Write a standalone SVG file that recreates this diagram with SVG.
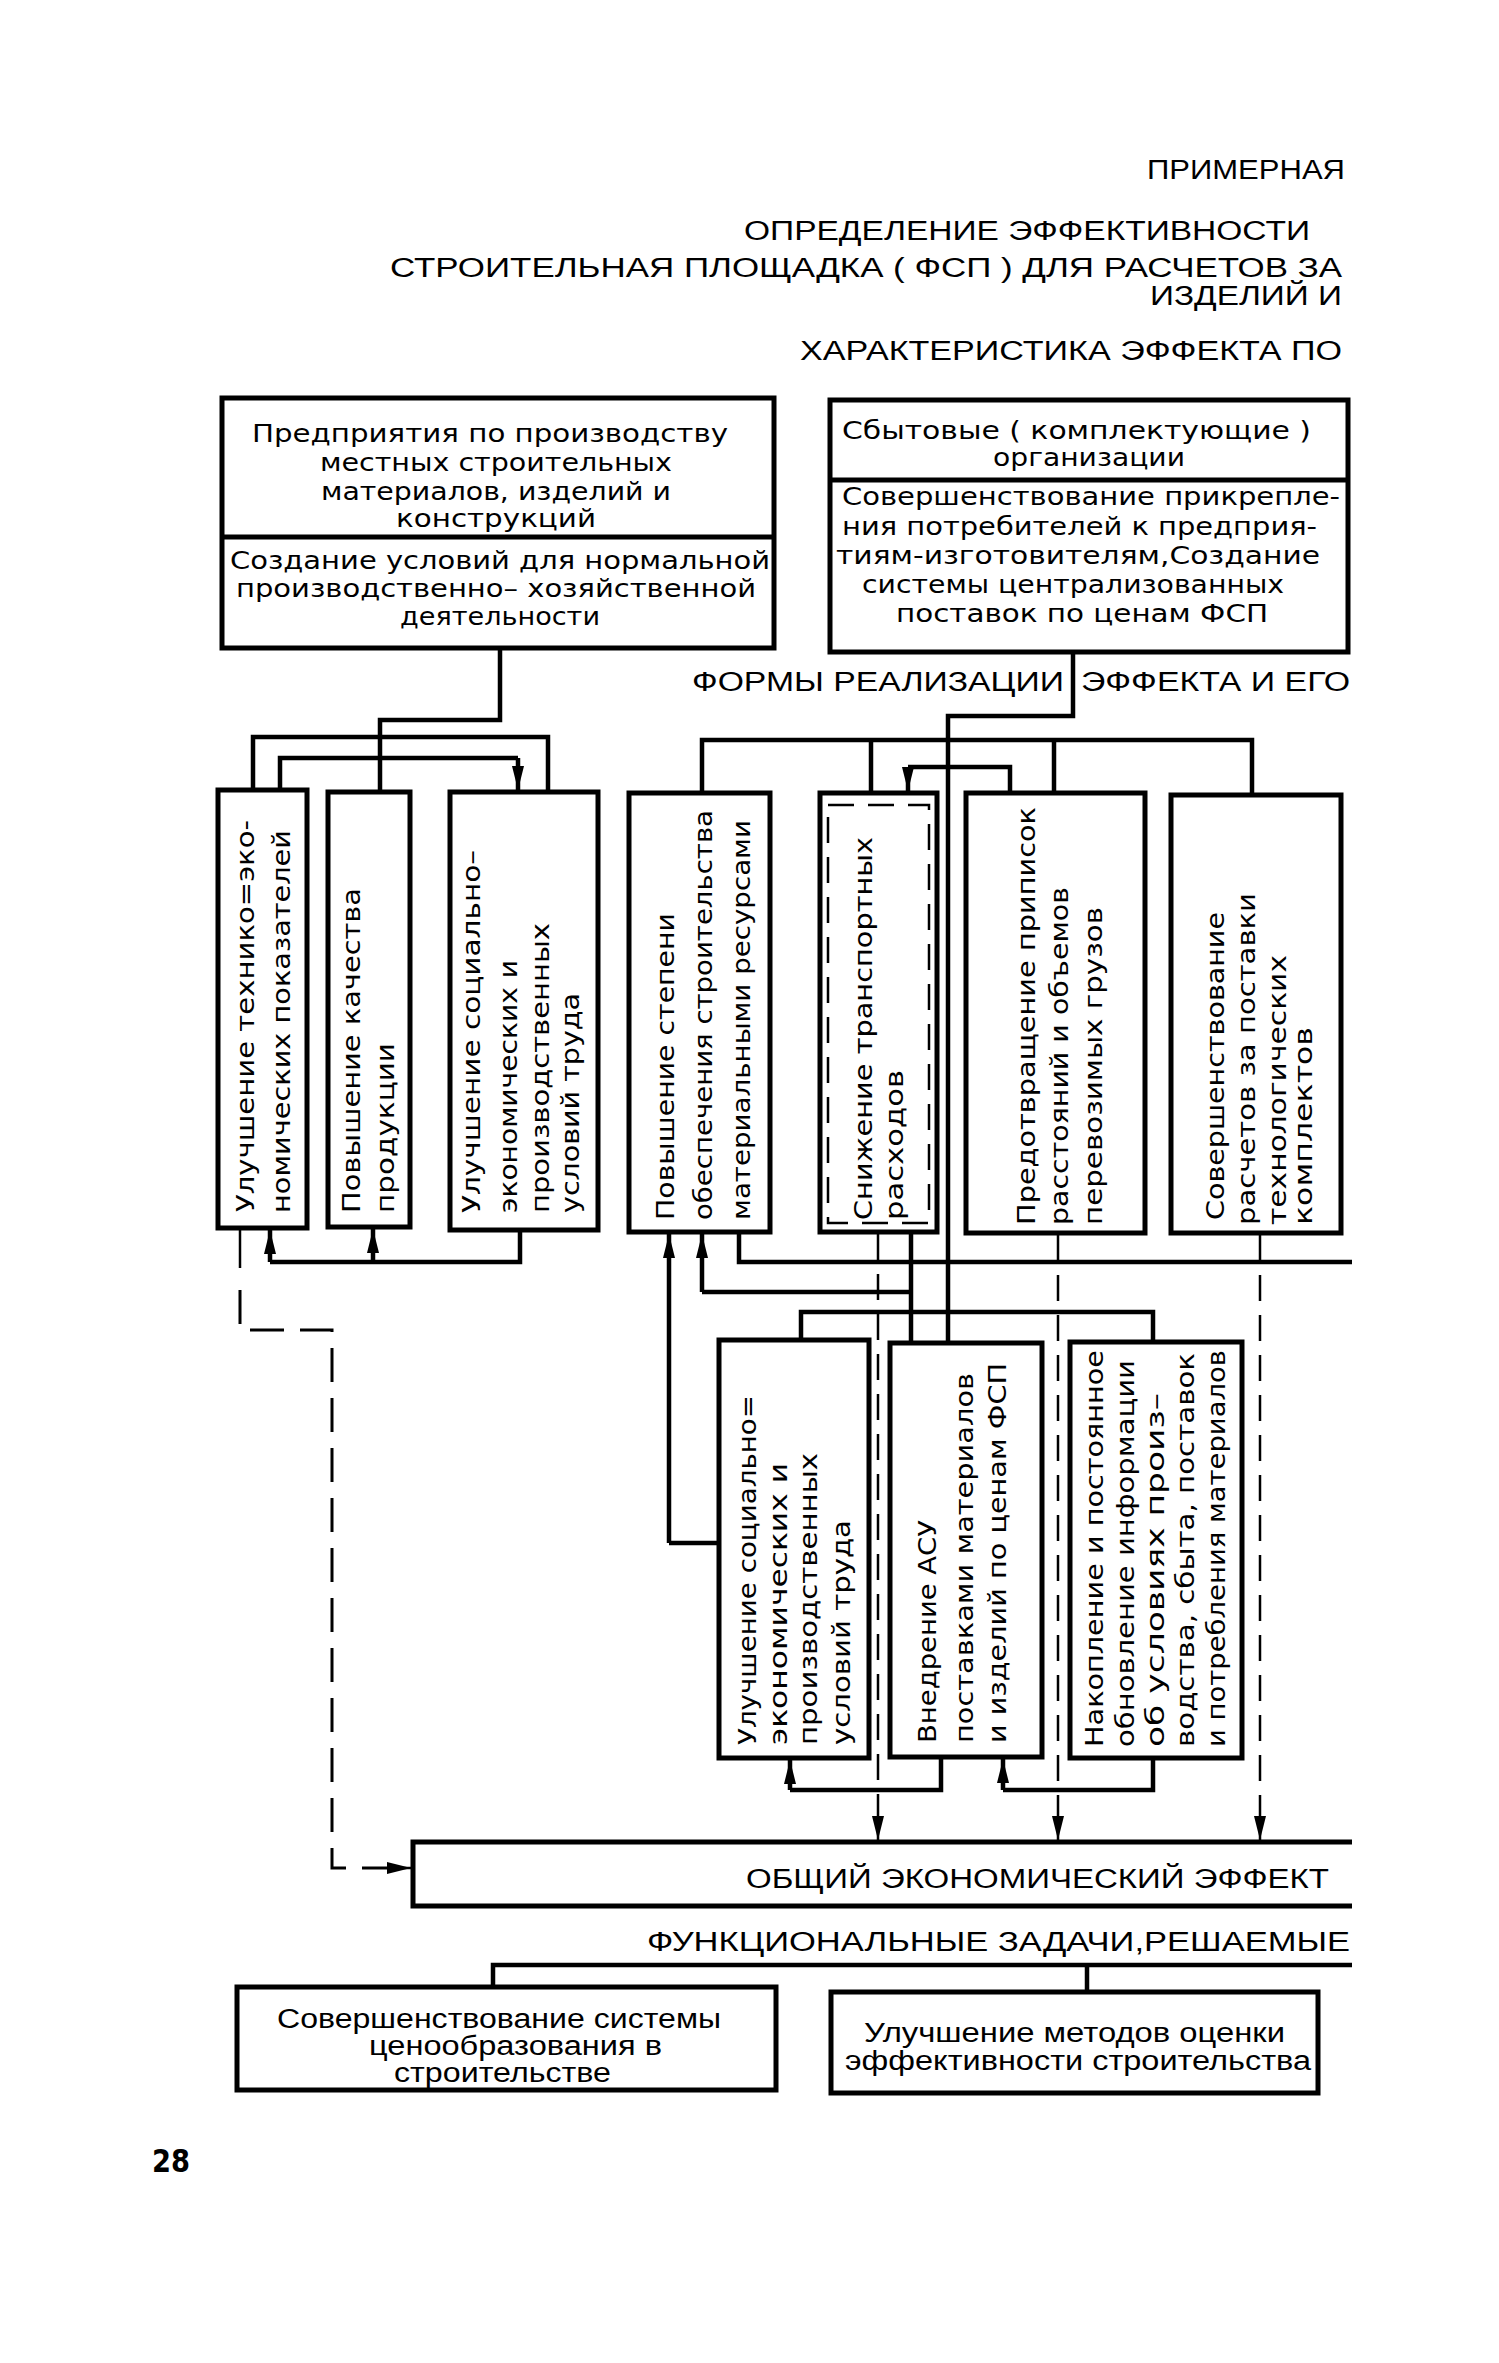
<svg xmlns="http://www.w3.org/2000/svg" width="1499" height="2363" viewBox="0 0 1499 2363">
<style>
.box{fill:none;stroke:#000;stroke-width:5}
.ln{fill:none;stroke:#000;stroke-width:4.5}
.th{fill:none;stroke:#000;stroke-width:2.5}
.ds{fill:none;stroke:#000;stroke-width:2.5;stroke-dasharray:26 14}
.dsb{fill:none;stroke:#000;stroke-width:3;stroke-dasharray:34 16}
.hd{font-family:"Liberation Sans",Arial,sans-serif;font-size:27px;fill:#000}
.bt{font-family:"DejaVu Sans","Liberation Sans",sans-serif;font-size:24px;fill:#000}
.bc{font-family:"Liberation Sans",Arial,sans-serif;font-size:27px;fill:#000}
.pg{font-family:"DejaVu Sans","Liberation Sans",sans-serif;font-size:32px;font-weight:bold;fill:#000}
</style>
<defs>
<marker id="ah" markerUnits="userSpaceOnUse" markerWidth="24" markerHeight="14" refX="24" refY="7" orient="auto" viewBox="0 0 24 14">
<path d="M0,1 L24,7 L0,13 Z" fill="#000"/>
</marker>
</defs>
<rect x="0" y="0" width="1499" height="2363" fill="#fff"/>

<g id="title">
<text class="hd" x="1147" y="179" textLength="198" lengthAdjust="spacingAndGlyphs">ПРИМЕРНАЯ</text>
<text class="hd" x="744" y="240" textLength="566" lengthAdjust="spacingAndGlyphs">ОПРЕДЕЛЕНИЕ ЭФФЕКТИВНОСТИ</text>
<text class="hd" x="390" y="277" textLength="952" lengthAdjust="spacingAndGlyphs">СТРОИТЕЛЬНАЯ ПЛОЩАДКА ( ФСП ) ДЛЯ РАСЧЕТОВ ЗА</text>
<text class="hd" x="1150" y="305" textLength="192" lengthAdjust="spacingAndGlyphs">ИЗДЕЛИЙ И</text>
<text class="hd" x="800" y="360" textLength="542" lengthAdjust="spacingAndGlyphs">ХАРАКТЕРИСТИКА ЭФФЕКТА ПО</text>
<text class="hd" x="692" y="691" textLength="372" lengthAdjust="spacingAndGlyphs">ФОРМЫ РЕАЛИЗАЦИИ</text>
<text class="hd" x="1081" y="691" textLength="269" lengthAdjust="spacingAndGlyphs">ЭФФЕКТА И ЕГО</text>
<text class="hd" x="647" y="1951" textLength="703" lengthAdjust="spacingAndGlyphs">ФУНКЦИОНАЛЬНЫЕ  ЗАДАЧИ,РЕШАЕМЫЕ</text>
<text class="pg" x="152" y="2172" textLength="38" lengthAdjust="spacingAndGlyphs">28</text>
</g>

<g id="connectors">
<!-- left group -->
<path class="ln" d="M500,648 V720 H380 V792"/>
<path class="ln" d="M253,792 V737 H548 V792"/>
<path class="ln" d="M280,792 V758 H518"/>
<path class="ln" d="M518,758 V790" marker-end="url(#ah)"/>
<path class="ln" d="M520,1230 V1262 H270"/>
<path class="ln" d="M270,1262 V1230" marker-end="url(#ah)"/>
<path class="ln" d="M373,1262 V1229" marker-end="url(#ah)"/>
<path class="th" d="M240,1228 V1268"/>
<path class="dsb" d="M240,1290 V1330 H332 V1868 H395"/>
<path class="th" d="M395,1868 H411" marker-end="url(#ah)"/>
<!-- right group -->
<path class="ln" d="M1073,652 V716 H948 V1343"/>
<path class="ln" d="M702,793 V740 H1252 V795"/>
<path class="ln" d="M871,740 V793"/>
<path class="ln" d="M1054,740 V793"/>
<path class="ln" d="M1010,793 V767 H908"/>
<path class="ln" d="M908,767 V791" marker-end="url(#ah)"/>
<path class="ln" d="M739,1232 V1262 H1352"/>
<path class="ln" d="M911,1232 V1343"/>
<path class="ln" d="M911,1292 H702"/>
<path class="ln" d="M702,1292 V1234" marker-end="url(#ah)"/>
<path class="ln" d="M719,1543 H669"/>
<path class="ln" d="M669,1543 V1234" marker-end="url(#ah)"/>
<path class="ln" d="M801,1340 V1312 H1153 V1342"/>
<path class="ds" d="M878,1234 V1822"/>
<path class="th" d="M878,1818 V1840" marker-end="url(#ah)"/>
<path class="ds" d="M1058,1235 V1822"/>
<path class="th" d="M1058,1818 V1840" marker-end="url(#ah)"/>
<path class="ds" d="M1260,1235 V1822"/>
<path class="th" d="M1260,1818 V1840" marker-end="url(#ah)"/>
<path class="ln" d="M941,1757 V1790 H790"/>
<path class="ln" d="M790,1790 V1760" marker-end="url(#ah)"/>
<path class="ln" d="M1153,1758 V1790 H1003"/>
<path class="ln" d="M1003,1790 V1759" marker-end="url(#ah)"/>
<!-- bottom -->
<path class="ln" d="M1352,1965 H493 V1987"/>
<path class="ln" d="M1087,1965 V1992"/>
</g>

<g id="node-enterprises">
<rect class="box" x="222" y="398" width="552" height="250"/>
<line class="box" x1="222" y1="537" x2="774" y2="537"/>
<text class="bt" x="490" y="442" text-anchor="middle" textLength="476" lengthAdjust="spacingAndGlyphs">Предприятия по производству</text>
<text class="bt" x="496" y="471" text-anchor="middle" textLength="352" lengthAdjust="spacingAndGlyphs">местных строительных</text>
<text class="bt" x="496" y="500" text-anchor="middle" textLength="350" lengthAdjust="spacingAndGlyphs">материалов, изделий и</text>
<text class="bt" x="496" y="527" text-anchor="middle" textLength="200" lengthAdjust="spacingAndGlyphs">конструкций</text>
<text class="bt" x="230" y="569" textLength="540" lengthAdjust="spacingAndGlyphs">Создание условий для нормальной</text>
<text class="bt" x="236" y="597" textLength="520" lengthAdjust="spacingAndGlyphs">производственно– хозяйственной</text>
<text class="bt" x="400" y="625" textLength="200" lengthAdjust="spacingAndGlyphs">деятельности</text>
</g>

<g id="node-sales">
<rect class="box" x="830" y="400" width="518" height="252"/>
<line class="box" x1="830" y1="480" x2="1348" y2="480"/>
<text class="bt" x="842" y="439" textLength="469" lengthAdjust="spacingAndGlyphs">Сбытовые ( комплектующие )</text>
<text class="bt" x="993" y="466" textLength="192" lengthAdjust="spacingAndGlyphs">организации</text>
<text class="bt" x="842" y="505" textLength="498" lengthAdjust="spacingAndGlyphs">Совершенствование прикрепле-</text>
<text class="bt" x="842" y="535" textLength="475" lengthAdjust="spacingAndGlyphs">ния потребителей к предприя-</text>
<text class="bt" x="836" y="564" textLength="484" lengthAdjust="spacingAndGlyphs">тиям-изготовителям,Создание</text>
<text class="bt" x="862" y="593" textLength="422" lengthAdjust="spacingAndGlyphs">системы централизованных</text>
<text class="bt" x="896" y="622" textLength="372" lengthAdjust="spacingAndGlyphs">поставок по ценам ФСП</text>
</g>

<g id="node-a">
<rect class="box" x="218" y="790" width="89" height="438"/>
<text class="bt" transform="translate(254,1212) rotate(-90)" textLength="392" lengthAdjust="spacingAndGlyphs">Улучшение технико=эко-</text>
<text class="bt" transform="translate(290,1213) rotate(-90)" textLength="383" lengthAdjust="spacingAndGlyphs">номических показателей</text>
</g>
<g id="node-b">
<rect class="box" x="328" y="792" width="82" height="435"/>
<text class="bt" transform="translate(360,1213) rotate(-90)" textLength="325" lengthAdjust="spacingAndGlyphs">Повышение качества</text>
<text class="bt" transform="translate(394,1213) rotate(-90)" textLength="170" lengthAdjust="spacingAndGlyphs">продукции</text>
</g>
<g id="node-c">
<rect class="box" x="450" y="792" width="148" height="438"/>
<text class="bt" transform="translate(480,1213) rotate(-90)" textLength="363" lengthAdjust="spacingAndGlyphs">Улучшение социально–</text>
<text class="bt" transform="translate(517,1213) rotate(-90)" textLength="253" lengthAdjust="spacingAndGlyphs">экономических и</text>
<text class="bt" transform="translate(549,1213) rotate(-90)" textLength="290" lengthAdjust="spacingAndGlyphs">производственных</text>
<text class="bt" transform="translate(579,1213) rotate(-90)" textLength="220" lengthAdjust="spacingAndGlyphs">условий труда</text>
</g>

<g id="node-d">
<rect class="box" x="629" y="793" width="141" height="439"/>
<text class="bt" transform="translate(674,1220) rotate(-90)" textLength="307" lengthAdjust="spacingAndGlyphs">Повышение степени</text>
<text class="bt" transform="translate(712,1220) rotate(-90)" textLength="410" lengthAdjust="spacingAndGlyphs">обеспечения строительства</text>
<text class="bt" transform="translate(750,1220) rotate(-90)" textLength="400" lengthAdjust="spacingAndGlyphs">материальными ресурсами</text>
</g>
<g id="node-e">
<rect class="box" x="820" y="793" width="117" height="439"/>
<rect class="ds" x="828" y="805" width="101" height="418"/>
<text class="bt" transform="translate(872,1220) rotate(-90)" textLength="383" lengthAdjust="spacingAndGlyphs">Снижение транспортных</text>
<text class="bt" transform="translate(903,1220) rotate(-90)" textLength="150" lengthAdjust="spacingAndGlyphs">расходов</text>
</g>
<g id="node-f">
<rect class="box" x="966" y="793" width="179" height="440"/>
<text class="bt" transform="translate(1035,1225) rotate(-90)" textLength="418" lengthAdjust="spacingAndGlyphs">Предотвращение приписок</text>
<text class="bt" transform="translate(1068,1225) rotate(-90)" textLength="338" lengthAdjust="spacingAndGlyphs">расстояний и объемов</text>
<text class="bt" transform="translate(1102,1225) rotate(-90)" textLength="318" lengthAdjust="spacingAndGlyphs">перевозимых грузов</text>
</g>
<g id="node-g">
<rect class="box" x="1171" y="795" width="170" height="438"/>
<text class="bt" transform="translate(1224,1220) rotate(-90)" textLength="308" lengthAdjust="spacingAndGlyphs">Совершенствование</text>
<text class="bt" transform="translate(1255,1225) rotate(-90)" textLength="332" lengthAdjust="spacingAndGlyphs">расчетов за поставки</text>
<text class="bt" transform="translate(1286,1225) rotate(-90)" textLength="270" lengthAdjust="spacingAndGlyphs">технологических</text>
<text class="bt" transform="translate(1312,1225) rotate(-90)" textLength="198" lengthAdjust="spacingAndGlyphs">комплектов</text>
</g>

<g id="node-h">
<rect class="box" x="719" y="1340" width="150" height="418"/>
<text class="bt" transform="translate(756,1745) rotate(-90)" textLength="350" lengthAdjust="spacingAndGlyphs">Улучшение социально=</text>
<text class="bt" transform="translate(787,1745) rotate(-90)" textLength="282" lengthAdjust="spacingAndGlyphs">экономических  и</text>
<text class="bt" transform="translate(817,1745) rotate(-90)" textLength="292" lengthAdjust="spacingAndGlyphs">производственных</text>
<text class="bt" transform="translate(850,1745) rotate(-90)" textLength="225" lengthAdjust="spacingAndGlyphs">условий труда</text>
</g>
<g id="node-i">
<rect class="box" x="890" y="1343" width="152" height="414"/>
<text class="bt" transform="translate(936,1743) rotate(-90)" textLength="223" lengthAdjust="spacingAndGlyphs">Внедрение АСУ</text>
<text class="bt" transform="translate(973,1743) rotate(-90)" textLength="370" lengthAdjust="spacingAndGlyphs">поставками материалов</text>
<text class="bt" transform="translate(1006,1743) rotate(-90)" textLength="380" lengthAdjust="spacingAndGlyphs">и изделий по ценам ФСП</text>
</g>
<g id="node-j">
<rect class="box" x="1070" y="1342" width="172" height="416"/>
<text class="bt" transform="translate(1103,1747) rotate(-90)" textLength="397" lengthAdjust="spacingAndGlyphs">Накопление и постоянное</text>
<text class="bt" transform="translate(1134,1747) rotate(-90)" textLength="387" lengthAdjust="spacingAndGlyphs">обновление информации</text>
<text class="bt" transform="translate(1164,1747) rotate(-90)" textLength="354" lengthAdjust="spacingAndGlyphs">об условиях  произ–</text>
<text class="bt" transform="translate(1194,1747) rotate(-90)" textLength="394" lengthAdjust="spacingAndGlyphs">водства, сбыта, поставок</text>
<text class="bt" transform="translate(1225,1747) rotate(-90)" textLength="397" lengthAdjust="spacingAndGlyphs">и потребления материалов</text>
</g>

<g id="node-total">
<path class="box" d="M1352,1842 H413 V1906 H1352"/>
<text class="hd" x="746" y="1888" textLength="583" lengthAdjust="spacingAndGlyphs">ОБЩИЙ ЭКОНОМИЧЕСКИЙ ЭФФЕКТ</text>
</g>

<g id="node-k">
<rect class="box" x="237" y="1987" width="539" height="103"/>
<text class="bc" x="277" y="2028" textLength="444" lengthAdjust="spacingAndGlyphs">Совершенствование системы</text>
<text class="bc" x="369" y="2055" textLength="293" lengthAdjust="spacingAndGlyphs">ценообразования в</text>
<text class="bc" x="394" y="2082" textLength="217" lengthAdjust="spacingAndGlyphs">строительстве</text>
</g>
<g id="node-l">
<rect class="box" x="831" y="1992" width="487" height="101"/>
<text class="bc" x="864" y="2042" textLength="421" lengthAdjust="spacingAndGlyphs">Улучшение методов оценки</text>
<text class="bc" x="845" y="2070" textLength="466" lengthAdjust="spacingAndGlyphs">эффективности строительства</text>
</g>
</svg>
